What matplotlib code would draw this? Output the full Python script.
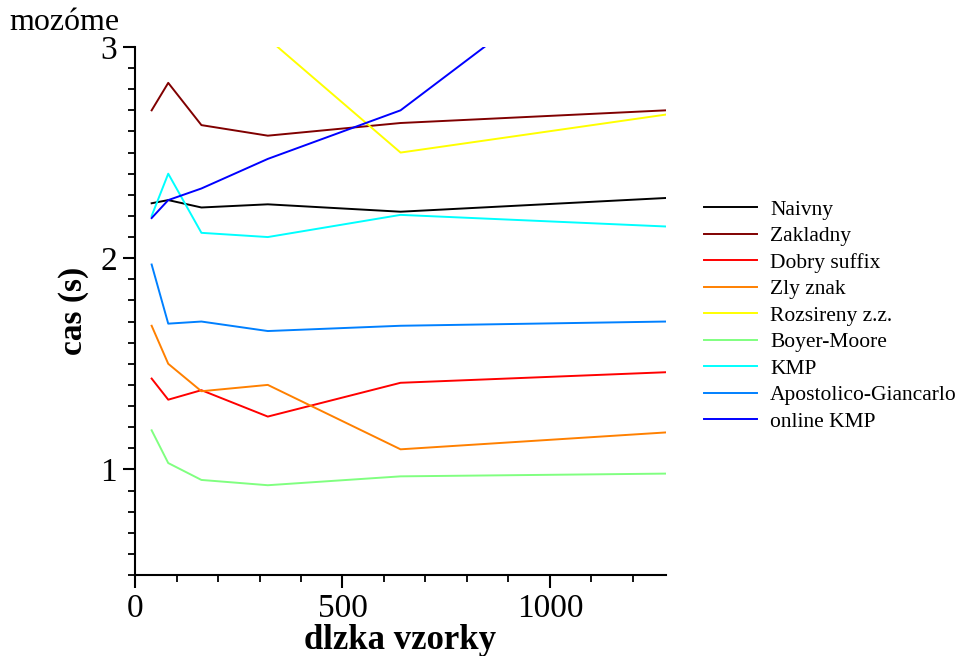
import matplotlib
matplotlib.use("Agg")
import matplotlib.pyplot as plt
from matplotlib.ticker import MultipleLocator

plt.rcParams['font.family'] = ['Liberation Serif', 'DejaVu Serif']

x = [40, 80, 160, 320, 640, 1280]
naivny = [2.26, 2.275, 2.24, 2.255, 2.22, 2.285]
zakladny = [2.70, 2.83, 2.63, 2.58, 2.64, 2.70]
dobry_suffix = [1.43, 1.33, 1.375, 1.25, 1.41, 1.46]
zly_znak = [1.68, 1.50, 1.37, 1.40, 1.095, 1.175]
rozsireny = [3.60, 3.45, 3.25, 3.04, 2.50, 2.68]
boyer_moore = [1.185, 1.03, 0.95, 0.925, 0.967, 0.98]
kmp = [2.20, 2.40, 2.12, 2.10, 2.205, 2.15]
apostolico = [1.97, 1.69, 1.70, 1.655, 1.68, 1.70]
online_kmp = [2.19, 2.275, 2.33, 2.47, 2.70, 3.65]

series = [
    ("Naivny", naivny, "#000000"),
    ("Zakladny", zakladny, "#800000"),
    ("Dobry suffix", dobry_suffix, "#ff0000"),
    ("Zly znak", zly_znak, "#ff8000"),
    ("Rozsireny z.z.", rozsireny, "#ffff00"),
    ("Boyer-Moore", boyer_moore, "#80ff80"),
    ("KMP", kmp, "#00ffff"),
    ("Apostolico-Giancarlo", apostolico, "#0080ff"),
    ("online KMP", online_kmp, "#0000ff"),
]

fig = plt.figure(figsize=(9.66, 6.56), dpi=100)
ax = fig.add_axes([0.1398, 0.1235, 0.5497, 0.8049])

for name, ys, c in series:
    ax.plot(x, ys, color=c, lw=1.4, label=name)

ax.set_xlim(0, 1280)
ax.set_ylim(0.5, 3)
ax.xaxis.set_major_locator(MultipleLocator(500))
ax.xaxis.set_minor_locator(MultipleLocator(100))
ax.yaxis.set_major_locator(MultipleLocator(1))
ax.yaxis.set_minor_locator(MultipleLocator(0.1))
ax.spines['top'].set_visible(False)
ax.spines['right'].set_visible(False)
for s in ('left', 'bottom'):
    ax.spines[s].set_linewidth(1.5)
ax.tick_params(which='major', length=9, width=1.5, labelsize=24, direction='out')
ax.tick_params(which='minor', length=5, width=1.3, direction='out')
ax.tick_params(axis='y', pad=4)
ax.tick_params(axis='x', pad=4)

ax.set_xlabel('dlzka vzorky', fontsize=25, fontweight='bold', labelpad=0)
ax.set_ylabel('cas (s)', fontsize=24, fontweight='bold', labelpad=8)

fig.text(0.01, 0.955, 'mozóme', fontsize=23, va='baseline', ha='left')

leg = fig.legend(loc='upper left', bbox_to_anchor=(0.72, 0.709), frameon=False,
                 fontsize=15.5, handlelength=2.45, handletextpad=0.62,
                 labelspacing=0.3, borderaxespad=0)

fig.savefig('out.png', dpi=100)
